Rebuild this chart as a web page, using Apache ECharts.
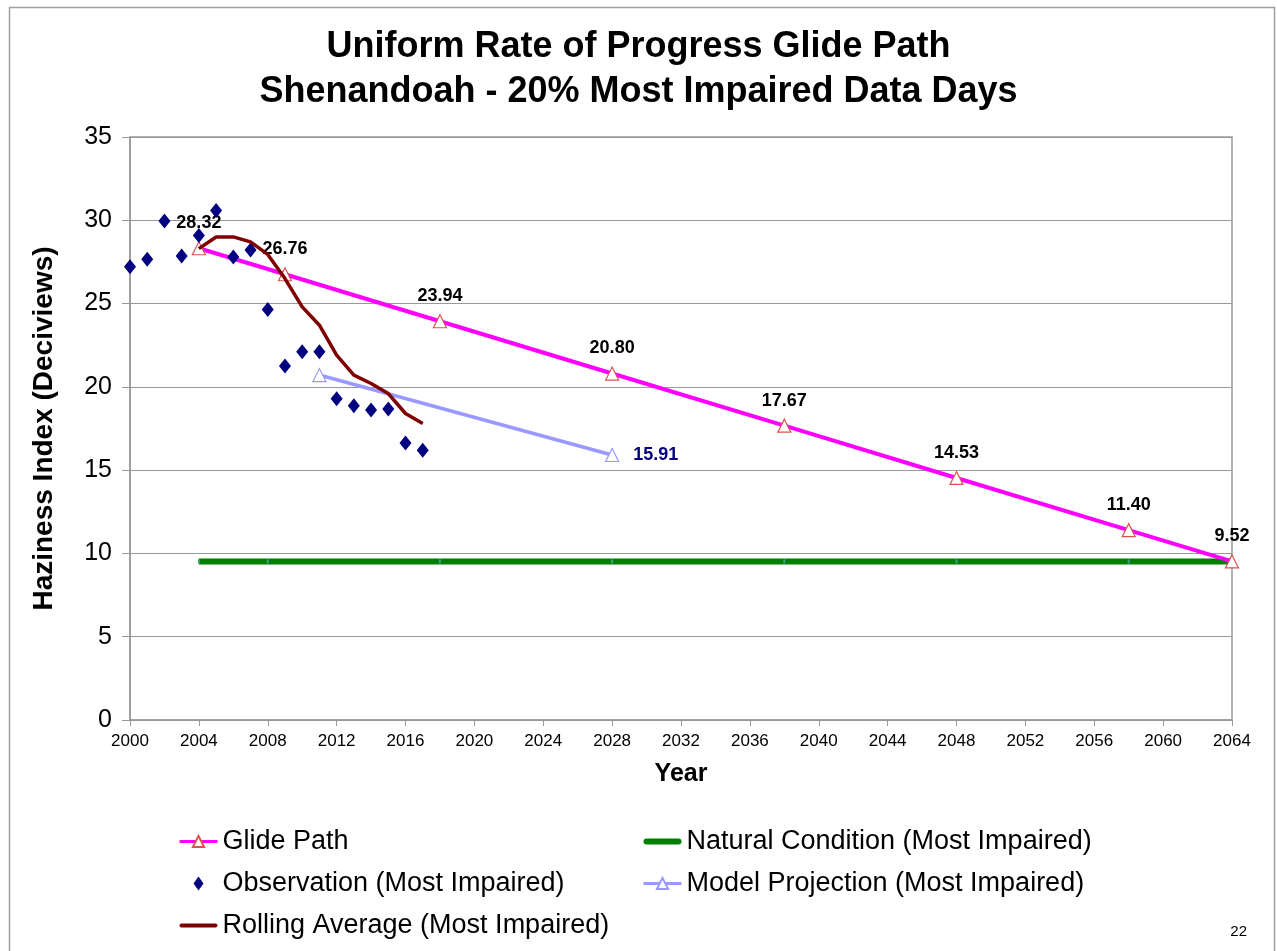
<!DOCTYPE html>
<html>
<head>
<meta charset="utf-8">
<title>Uniform Rate of Progress Glide Path - Shenandoah</title>
<script src="https://cdn.jsdelivr.net/npm/echarts@6/dist/echarts.min.js"></script>
<style>
  html, body { margin: 0; padding: 0; background: #fff; }
  #chart { width: 1277px; height: 951px; }
</style>
</head>
<body>
<div id="chart"></div>
<script>
// years and values
var glideYears = [2004, 2009, 2018, 2028, 2038, 2048, 2058, 2064]
var glideValues = [28.32, 26.76, 23.94, 20.80, 17.67, 14.53, 11.40, 9.52]

var naturalYears = [2004, 2008, 2018, 2028, 2038, 2048, 2058, 2064]
var naturalValues = [9.52, 9.52, 9.52, 9.52, 9.52, 9.52, 9.52, 9.52]

var obsYears = [2000, 2001, 2002, 2003, 2004, 2005, 2006, 2007, 2008, 2009,
  2010, 2011, 2012, 2013, 2014, 2015, 2016, 2017]
var obsValues = [27.21, 27.66, 29.95, 27.85, 29.08, 30.58, 27.79, 28.21, 24.65, 21.25,
  22.11, 22.11, 19.29, 18.87, 18.61, 18.67, 16.63, 16.19]

var modelYears = [2011, 2028]
var modelValues = [20.71, 15.91]

var rollYears = [2004, 2005, 2006, 2007, 2008, 2009, 2010, 2011, 2012, 2013, 2014, 2015, 2016, 2017]
var rollValues = [28.30, 29.00, 29.00, 28.70, 27.95, 26.50, 24.80, 23.70, 21.90, 20.70, 20.20, 19.60, 18.40, 17.80]

var titleLines = ['Uniform Rate of Progress Glide Path', 'Shenandoah - 20% Most Impaired Data Days']
var seriesNames = [
  'Glide Path',
  'Natural Condition (Most Impaired)',
  'Observation (Most Impaired)',
  'Model Projection (Most Impaired)',
  'Rolling Average (Most Impaired)'
]

function pairs(xs, ys) {
  return xs.map(function (x, i) { return [x, ys[i]] })
}

var FONT = 'Arial, "Liberation Sans", sans-serif'
// legend icons
var DIAMOND = 'path://M5,0L10,7L5,14L0,7Z'
var THIN_BAR = 'path://M2,0H36A2,2 0 0 1 36,4H2A2,2 0 0 1 2,0Z'
var THICK_BAR = 'path://M3,0H35A3,3 0 0 1 35,6H3A3,3 0 0 1 3,0Z'

var chart = echarts.init(document.getElementById('chart'))

var modelData = pairs(modelYears, modelValues)
modelData[modelData.length - 1] = {
  value: modelData[modelData.length - 1],
  label: {
    show: true, position: 'right', distance: 14,
    color: '#000080', fontWeight: 'bold', fontSize: 18, fontFamily: FONT,
    formatter: function (p) { return p.value[1].toFixed(2) }
  }
}

var legendText = { fontSize: 27, color: '#000', fontFamily: FONT }

var option = {
  animation: false,
  backgroundColor: '#fff',
  textStyle: { fontFamily: FONT },
  title: {
    text: titleLines.join('\n'),
    left: 'center',
    top: 20,
    textStyle: { fontSize: 36, fontWeight: 'bold', color: '#000', lineHeight: 45, fontFamily: FONT }
  },
  graphic: [
    {
      type: 'rect', left: 7, top: 5, silent: true,
      shape: { width: 1265, height: 960 },
      style: { fill: 'none', stroke: '#a0a0a0', lineWidth: 1.5 }
    },
    {
      type: 'text', right: 30, bottom: 12,
      style: { text: '22', fontSize: 15, fill: '#000', fontFamily: FONT }
    }
  ],
  legend: [
    {
      data: [
        { name: seriesNames[0], lineStyle: { width: 3 } },
        { name: seriesNames[2], icon: DIAMOND },
        { name: seriesNames[4], icon: THIN_BAR, itemStyle: { color: '#800000' } }
      ],
      orient: 'vertical', left: 173, top: 823, itemGap: 15,
      itemWidth: 38, itemHeight: 14,
      textStyle: legendText
    },
    {
      data: [
        { name: seriesNames[1], icon: THICK_BAR, itemStyle: { color: '#008000' } },
        { name: seriesNames[3], lineStyle: { width: 3 } }
      ],
      orient: 'vertical', left: 637, top: 823, itemGap: 15,
      itemWidth: 38, itemHeight: 14,
      textStyle: legendText
    }
  ],
  grid: {
    left: 130, right: 45, top: 137, bottom: 231,
    show: true, borderColor: '#999', borderWidth: 1.5
  },
  xAxis: {
    type: 'value', min: 2000, max: 2064, interval: 4,
    name: 'Year', nameLocation: 'middle', nameGap: 42,
    nameTextStyle: { fontSize: 25, fontWeight: 'bold', color: '#000', fontFamily: FONT },
    axisLine: { lineStyle: { color: '#999', width: 1.5 } },
    axisTick: { show: true, length: 6, lineStyle: { color: '#999' } },
    axisLabel: { fontSize: 17, color: '#000', margin: 13, formatter: function (v) { return String(v) } },
    splitLine: { show: false }
  },
  yAxis: {
    type: 'value', min: 0, max: 35, interval: 5,
    name: 'Haziness Index (Deciviews)', nameLocation: 'middle', nameGap: 72,
    nameTextStyle: { fontSize: 28, fontWeight: 'bold', color: '#000', fontFamily: FONT },
    axisLine: { show: true, lineStyle: { color: '#999', width: 1.5 } },
    axisTick: { show: true, inside: false, length: 8, lineStyle: { color: '#999' } },
    axisLabel: { fontSize: 25, color: '#000', margin: 18 },
    splitLine: { show: true, lineStyle: { color: '#999', width: 1.2 } }
  },
  series: [
    {
      name: seriesNames[1], type: 'line', z: 2,
      data: pairs(naturalYears, naturalValues),
      lineStyle: { color: '#008000', width: 6 },
      symbol: 'rect', symbolSize: [2, 4],
      itemStyle: { color: '#40a080' }
    },
    {
      name: seriesNames[0], type: 'line', z: 3,
      data: pairs(glideYears, glideValues),
      lineStyle: { color: '#ff00ff', width: 4 },
      symbol: 'triangle', symbolSize: 13,
      itemStyle: { color: '#ffffff', borderColor: '#d9534f', borderWidth: 1.2 },
      label: {
        show: true, position: 'top', distance: 9,
        fontSize: 18, fontWeight: 'bold', color: '#000', fontFamily: FONT,
        formatter: function (p) { return p.value[1].toFixed(2) }
      }
    },
    {
      name: seriesNames[3], type: 'line', z: 4,
      data: modelData,
      lineStyle: { color: '#9999ff', width: 3.5 },
      symbol: 'triangle', symbolSize: 13,
      itemStyle: { color: '#ffffff', borderColor: '#9999ff', borderWidth: 1.2 }
    },
    {
      name: seriesNames[2], type: 'scatter', z: 5,
      data: pairs(obsYears, obsValues),
      symbol: 'diamond', symbolSize: [12, 15], symbolKeepAspect: true,
      itemStyle: { color: '#000080', opacity: 1 }
    },
    {
      name: seriesNames[4], type: 'line', z: 6,
      data: pairs(rollYears, rollValues),
      lineStyle: { color: '#800000', width: 3.5 },
      symbol: 'none', showSymbol: false,
      itemStyle: { color: '#800000' }
    }
  ]
}

chart.setOption(option)
window.onresize = function () {
  chart.resize()
}
</script>
</body>
</html>
